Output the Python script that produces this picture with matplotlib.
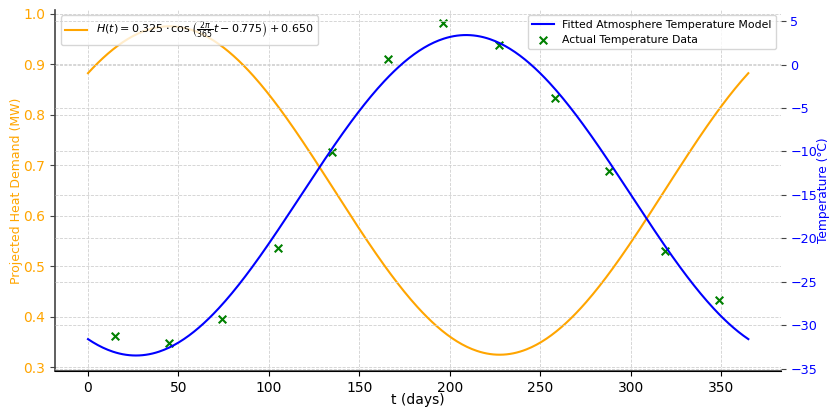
import numpy as np
import matplotlib.pyplot as plt

# heat demand model parameters
amp_h = 0.325
phase_h = 0.775
mean_h = 0.650

# fitted temperature model parameters
amp_t = 18.45
peak_day = 209.0
mean_t = -15.05

days = [15, 45, 74, 105, 135, 166, 196, 227, 258, 288, 319, 349]
temps = [-31.3, -32.1, -29.3, -21.1, -10.1, 0.6, 4.8, 2.3, -3.8, -12.2, -21.5, -27.1]

t = np.linspace(0, 365, 400)
heat = amp_h * np.cos(2 * np.pi / 365 * t - phase_h) + mean_h
temp_fit = amp_t * np.cos(2 * np.pi / 365 * (t - peak_day)) + mean_t

plt.rc("font", family="DejaVu Sans", size=10)

fig = plt.figure(figsize=(8.33, 4.11), dpi=100)
ax = fig.add_axes([0.066, 0.097, 0.872, 0.879])

ax.plot(t, heat, color="orange", lw=1.5,
        label=r"$H(t) = 0.325 \cdot \cos\left(\frac{2\pi}{365}t - 0.775\right) + 0.650$")
ax.set_xlabel("t (days)", labelpad=-1)
ax.set_ylabel("Projected Heat Demand (MW)", color="orange", fontsize=9, labelpad=0)
ax.tick_params(axis="y", labelcolor="orange", color="#444444")
ax.grid(True, ls="--", color="#d0d0d0", lw=0.6)
ax.legend(loc="upper left", fontsize=8)
for s in ["top", "right"]:
    ax.spines[s].set_visible(False)
for s in ["left", "bottom"]:
    ax.spines[s].set_color("#444444")
    ax.spines[s].set_linewidth(1.2)

ax2 = ax.twinx()
ax2.plot(t, temp_fit, color="blue", lw=1.5, label="Fitted Atmosphere Temperature Model")
ax2.scatter(days, temps, color="green", marker="x", s=30, label="Actual Temperature Data")
ax2.set_ylabel("Temperature (\u00b0C)", color="blue", fontsize=8.8, labelpad=0)
ax2.tick_params(axis="y", labelcolor="blue", color="#444444", labelsize=9.2, pad=3)
ax2.set_ylim(-35.3, 6.3)
ax2.grid(True, ls="--", color="#d0d0d0", lw=0.6)
for s in ["top", "right", "left"]:
    ax2.spines[s].set_visible(False)
ax2.legend(loc="upper right", fontsize=7.8)

fig.savefig("out.png", dpi=100)
